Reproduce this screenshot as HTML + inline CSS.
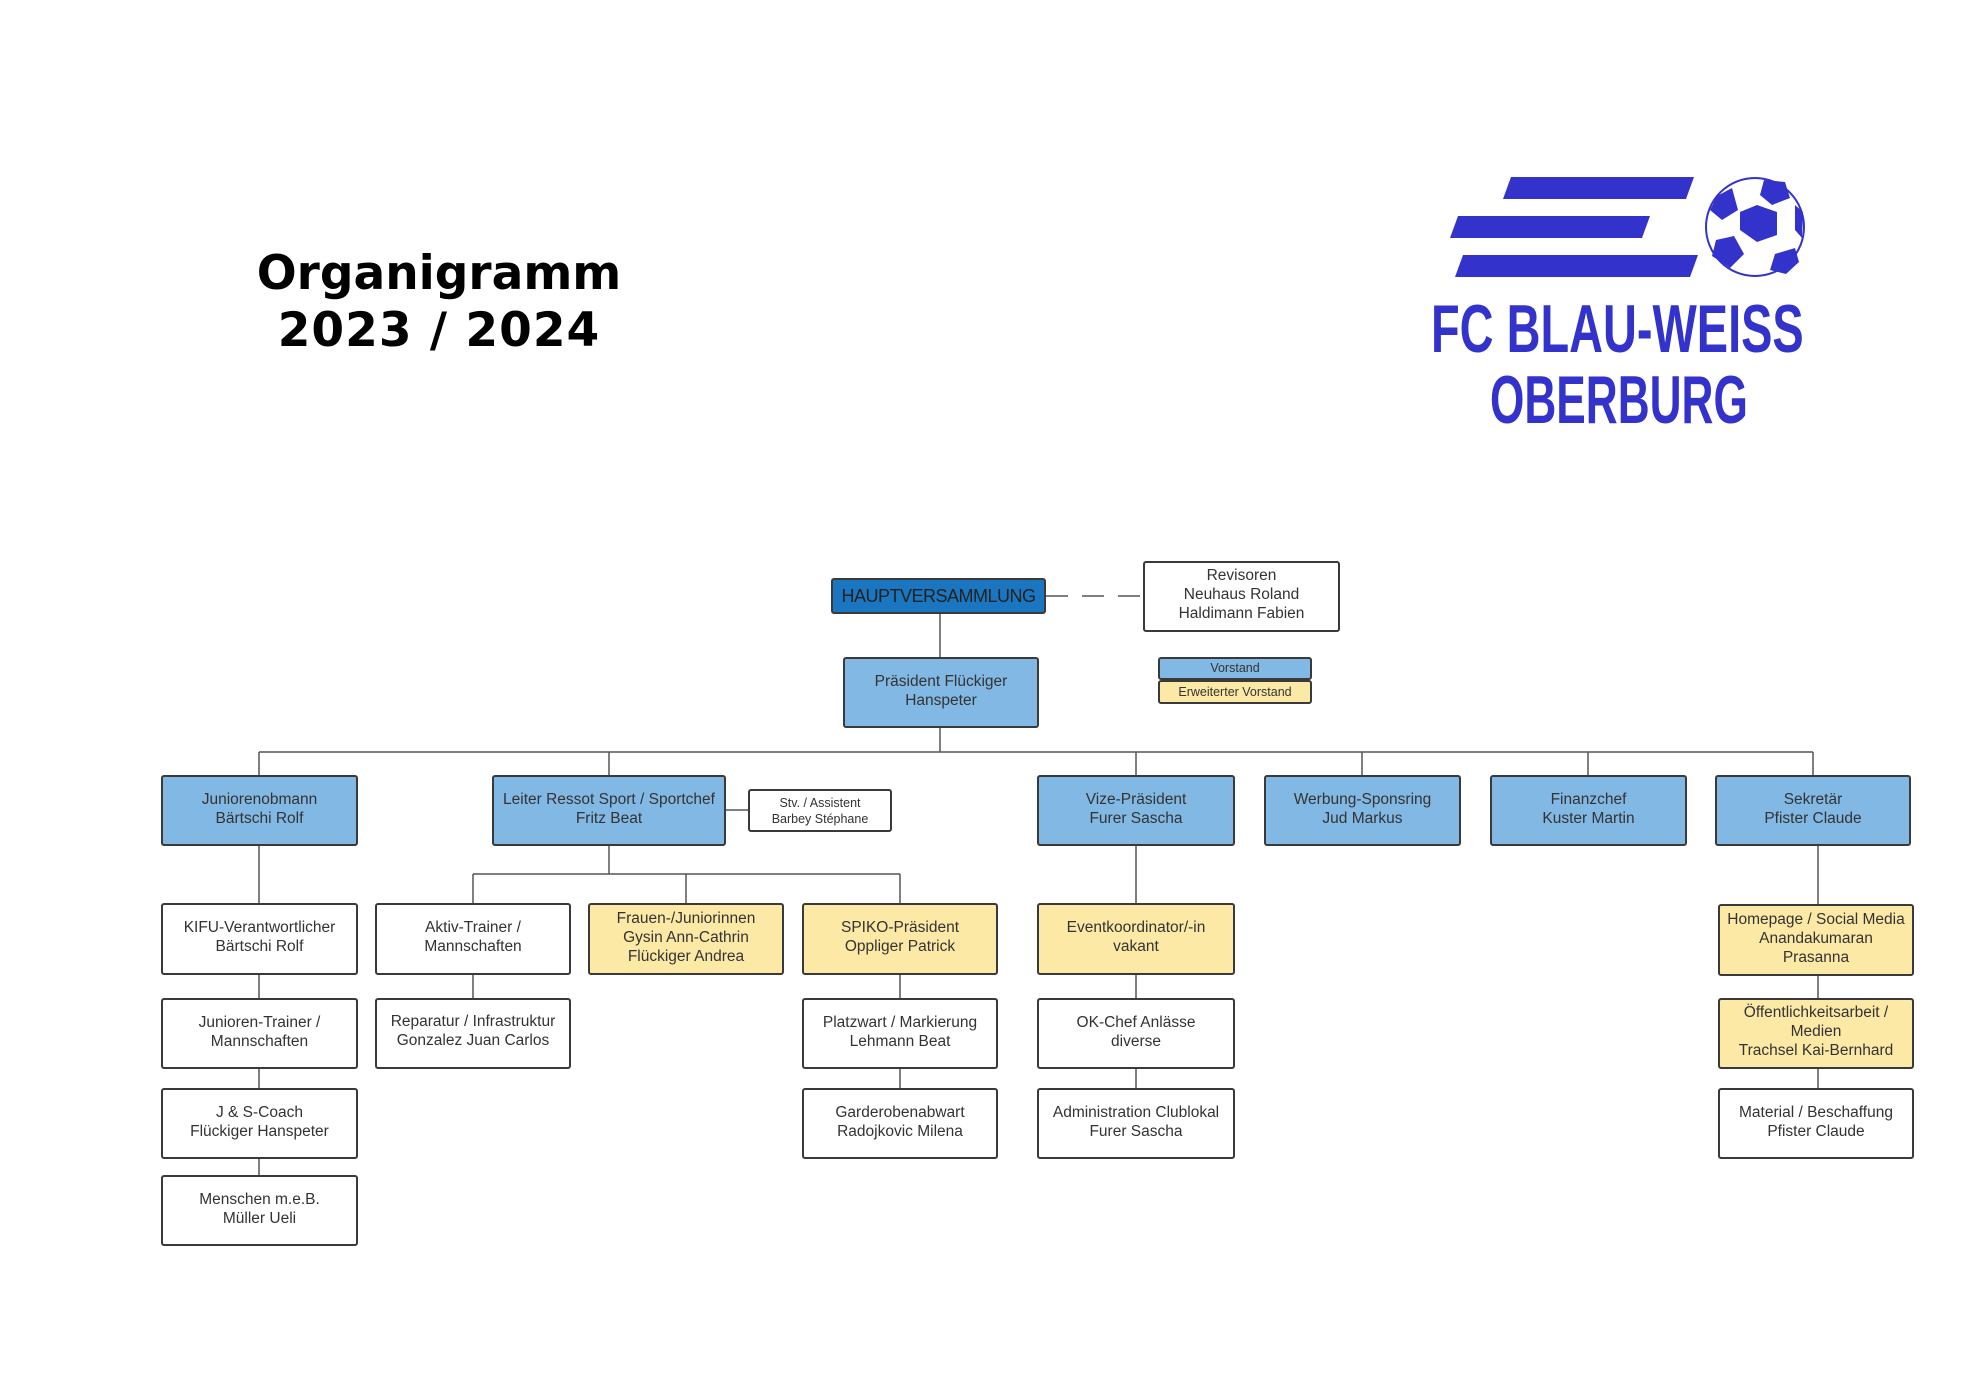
<!DOCTYPE html>
<html><head><meta charset="utf-8"><style>
body{margin:0;width:1977px;height:1398px;background:#fff;position:relative;overflow:hidden;font-family:"Liberation Sans",sans-serif}
.b{position:absolute;box-sizing:border-box;border:2px solid #3a3a3a;border-radius:3px;display:flex;align-items:center;justify-content:center;text-align:center;font-size:15.5px;line-height:19px;color:#333;background:#fff;padding-bottom:4px}
.bl{background:#82b8e4}
.y{background:#fde9a6}
.t{position:absolute;font-family:"DejaVu Sans",sans-serif;font-weight:bold;font-size:47px;text-align:center;width:500px;left:189px;color:#000}
.lg{position:absolute;font-family:"Liberation Sans Narrow","Liberation Sans",sans-serif;font-weight:bold;color:#3333cc;white-space:nowrap;transform-origin:0 0}
</style></head><body>
<div class="t" style="top:246px">Organigramm</div>
<div class="t" style="top:303px;letter-spacing:1px">2023 / 2024</div>

<svg width="1977" height="1398" style="position:absolute;left:0;top:0">
<g fill="#3333cc">
<polygon points="1511,177 1694,177 1686,199 1503,199"/>
<polygon points="1458,216 1650,216 1642,238 1450,238"/>
<polygon points="1463,255 1698,255 1690,277 1455,277"/>
<circle cx="1755" cy="227" r="49" fill="#fff" stroke="#3333cc" stroke-width="2"/>
<polygon points="1757,205 1777,212 1777,235 1757,242 1740,230 1740,212"/>
<polygon points="1717,196 1732,188 1738,210 1722,220 1710,210"/>
<polygon points="1764,180 1785,182 1790,198 1772,205 1760,195"/>
<polygon points="1716,240 1734,236 1744,254 1730,268 1712,256"/>
<polygon points="1775,254 1795,248 1799,262 1786,274 1770,270"/>
<polygon points="1795,205 1803,212 1802,238 1795,230"/>
</g>
<g stroke="#555" stroke-width="1.5" fill="none">
<line x1="940" y1="614" x2="940" y2="657"/>
<line x1="1046" y1="596" x2="1143" y2="596" stroke-dasharray="22,14"/>
<line x1="940" y1="728" x2="940" y2="752"/>
<line x1="259" y1="752" x2="1813" y2="752"/>
<line x1="259" y1="752" x2="259" y2="775"/>
<line x1="609" y1="752" x2="609" y2="775"/>
<line x1="1136" y1="752" x2="1136" y2="775"/>
<line x1="1362" y1="752" x2="1362" y2="775"/>
<line x1="1588" y1="752" x2="1588" y2="775"/>
<line x1="1813" y1="752" x2="1813" y2="775"/>
<line x1="726" y1="810" x2="748" y2="810"/>
<line x1="609" y1="846" x2="609" y2="874"/>
<line x1="473" y1="874" x2="900" y2="874"/>
<line x1="473" y1="874" x2="473" y2="903"/>
<line x1="686" y1="874" x2="686" y2="903"/>
<line x1="900" y1="874" x2="900" y2="903"/>
<line x1="259" y1="846" x2="259" y2="1175"/>
<line x1="473" y1="975" x2="473" y2="999"/>
<line x1="900" y1="975" x2="900" y2="1088"/>
<line x1="1136" y1="846" x2="1136" y2="1088"/>
<line x1="1818" y1="846" x2="1818" y2="1088"/>
</g>
</svg>
<div class="lg" style="left:1431px;top:290px;font-size:68px;transform:scaleX(0.69)">FC BLAU-WEISS</div>
<div class="lg" style="left:1490px;top:361px;font-size:68px;transform:scaleX(0.65)">OBERBURG</div>

<div class="b" style="left:831px;top:578px;width:215px;height:36px;background:#1a76c0;font-size:18px;padding:0;color:#222;letter-spacing:-0.5px">HAUPTVERSAMMLUNG</div>
<div class="b" style="left:1143px;top:561px;width:197px;height:71px">Revisoren<br>Neuhaus Roland<br>Haldimann Fabien</div>
<div class="b bl" style="left:843px;top:657px;width:196px;height:71px">Präsident Flückiger<br>Hanspeter</div>
<div class="b bl" style="left:1158px;top:657px;width:154px;height:23px;font-size:12.5px;padding:0">Vorstand</div>
<div class="b y" style="left:1158px;top:680px;width:154px;height:24px;font-size:12.5px;padding:0">Erweiterter Vorstand</div>

<div class="b bl" style="left:161px;top:775px;width:197px;height:71px">Juniorenobmann<br>Bärtschi Rolf</div>
<div class="b bl" style="left:492px;top:775px;width:234px;height:71px">Leiter Ressot Sport / Sportchef<br>Fritz Beat</div>
<div class="b" style="left:748px;top:789px;width:144px;height:43px;font-size:12.5px;line-height:16px;padding:0">Stv. / Assistent<br>Barbey Stéphane</div>
<div class="b bl" style="left:1037px;top:775px;width:198px;height:71px">Vize-Präsident<br>Furer Sascha</div>
<div class="b bl" style="left:1264px;top:775px;width:197px;height:71px">Werbung-Sponsring<br>Jud Markus</div>
<div class="b bl" style="left:1490px;top:775px;width:197px;height:71px">Finanzchef<br>Kuster Martin</div>
<div class="b bl" style="left:1715px;top:775px;width:196px;height:71px">Sekretär<br>Pfister Claude</div>

<div class="b" style="left:161px;top:903px;width:197px;height:72px">KIFU-Verantwortlicher<br>Bärtschi Rolf</div>
<div class="b" style="left:375px;top:903px;width:196px;height:72px">Aktiv-Trainer /<br>Mannschaften</div>
<div class="b y" style="left:588px;top:903px;width:196px;height:72px">Frauen-/Juniorinnen<br>Gysin Ann-Cathrin<br>Flückiger Andrea</div>
<div class="b y" style="left:802px;top:903px;width:196px;height:72px">SPIKO-Präsident<br>Oppliger Patrick</div>
<div class="b y" style="left:1037px;top:903px;width:198px;height:72px">Eventkoordinator/-in<br>vakant</div>
<div class="b y" style="left:1718px;top:904px;width:196px;height:72px">Homepage / Social Media<br>Anandakumaran<br>Prasanna</div>

<div class="b" style="left:161px;top:998px;width:197px;height:71px">Junioren-Trainer /<br>Mannschaften</div>
<div class="b" style="left:375px;top:998px;width:196px;height:71px;align-items:flex-start;padding-top:12px">Reparatur / Infrastruktur<br>Gonzalez Juan Carlos</div>
<div class="b" style="left:802px;top:998px;width:196px;height:71px">Platzwart / Markierung<br>Lehmann Beat</div>
<div class="b" style="left:1037px;top:998px;width:198px;height:71px">OK-Chef Anlässe<br>diverse</div>
<div class="b y" style="left:1718px;top:998px;width:196px;height:71px">Öffentlichkeitsarbeit /<br>Medien<br>Trachsel Kai-Bernhard</div>

<div class="b" style="left:161px;top:1088px;width:197px;height:71px">J &amp; S-Coach<br>Flückiger Hanspeter</div>
<div class="b" style="left:802px;top:1088px;width:196px;height:71px">Garderobenabwart<br>Radojkovic Milena</div>
<div class="b" style="left:1037px;top:1088px;width:198px;height:71px">Administration Clublokal<br>Furer Sascha</div>
<div class="b" style="left:1718px;top:1088px;width:196px;height:71px">Material / Beschaffung<br>Pfister Claude</div>

<div class="b" style="left:161px;top:1175px;width:197px;height:71px">Menschen m.e.B.<br>Müller Ueli</div>
</body></html>
